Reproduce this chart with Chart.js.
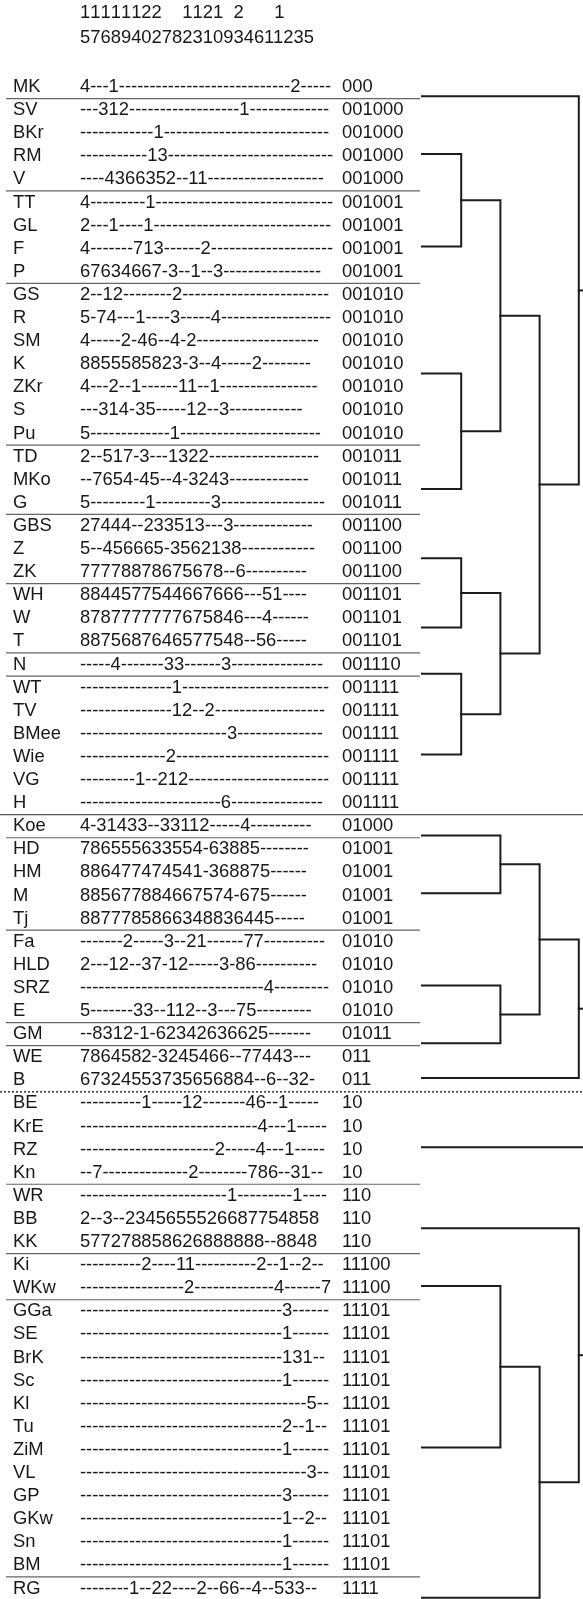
<!DOCTYPE html>
<html>
<head>
<meta charset="utf-8">
<script src="https://cdn.jsdelivr.net/npm/chart.js@4.4.1/dist/chart.umd.min.js"></script>
<style>
  html, body { margin: 0; padding: 0; background: #fff; }
  #wrap { position: relative; width: 583px; height: 1599px; }
</style>
</head>
<body>
<div id="wrap"><canvas id="dendro"></canvas></div>
<script>
// two-line column header (site numbers, read top/bottom)
var headerTop    = '11111122  1121 2   1';
var headerBottom = '57689402782310934611235';

// relevé names, one per row
var rowNames = ['MK','SV','BKr','RM','V','TT','GL','F','P','GS','R','SM','K','ZKr','S','Pu',
  'TD','MKo','G','GBS','Z','ZK','WH','W','T','N','WT','TV','BMee','Wie','VG','H',
  'Koe','HD','HM','M','Tj','Fa','HLD','SRZ','E','GM','WE','B',
  'BE','KrE','RZ','Kn','WR','BB','KK','Ki','WKw','GGa','SE','BrK','Sc','Kl','Tu','ZiM',
  'VL','GP','GKw','Sn','BM','RG'];

// cover strings; [n] stands for a run of n dashes
var rowPatterns = [
  '4[3]1[28]2[5]', '[3]312[18]1[13]', '[12]1[27]', '[11]13[27]', '[4]4366352[2]11[19]',
  '4[9]1[29]', '2[3]1[4]1[29]', '4[7]713[6]2[20]', '67634667[1]3[2]1[2]3[16]',
  '2[2]12[8]2[24]', '5[1]74[3]1[4]3[5]4[18]', '4[5]2[1]46[2]4[1]2[20]', '8855585823[1]3[2]4[5]2[8]',
  '4[3]2[2]1[6]11[2]1[16]', '[3]314[1]35[5]12[2]3[12]', '5[13]1[23]',
  '2[2]517[1]3[3]1322[18]', '[2]7654[1]45[2]4[1]3243[13]', '5[9]1[9]3[17]',
  '27444[2]233513[3]3[13]', '5[2]456665[1]3562138[12]', '77778878675678[2]6[10]',
  '8844577544667666[3]51[4]', '8787777777675846[3]4[6]', '8875687646577548[2]56[5]',
  '[5]4[7]33[6]3[15]',
  '[15]1[24]', '[15]12[2]2[18]', '[24]3[14]', '[14]2[25]', '[9]1[2]212[23]', '[23]6[15]',
  '4[1]31433[2]33112[5]4[10]',
  '786555633554[1]63885[8]', '886477474541[1]368875[6]', '885677884667574[1]675[6]', '8877785866348836445[5]',
  '[7]2[5]3[2]21[6]77[10]', '2[3]12[2]37[1]12[5]3[1]86[10]', '[30]4[9]', '5[7]33[2]112[2]3[3]75[9]',
  '[2]8312[1]1[1]62342636625[7]',
  '7864582[1]3245466[2]77443[3]', '67324553735656884[2]6[2]32[1]',
  '[10]1[5]12[7]46[2]1[5]', '[29]4[3]1[5]', '[22]2[5]4[3]1[5]', '[2]7[14]2[8]786[2]31[2]',
  '[24]1[9]1[4]', '2[2]3[2]2345655526687754858', '577278858626888888[2]8848',
  '[10]2[4]11[10]2[2]1[2]2[2]', '[17]2[13]4[6]7',
  '[33]3[6]', '[33]1[6]', '[33]131[2]', '[33]1[6]', '[37]5[2]', '[33]2[2]1[2]', '[33]1[6]',
  '[37]3[2]', '[33]3[6]', '[33]1[2]2[2]', '[33]1[6]', '[33]1[6]',
  '[8]1[2]22[4]2[2]66[2]4[2]533[2]'
];

// binary group codes
var rowCodes = ['000',
  '001000','001000','001000','001000','001001','001001','001001','001001',
  '001010','001010','001010','001010','001010','001010','001010',
  '001011','001011','001011','001100','001100','001100','001101','001101','001101',
  '001110','001111','001111','001111','001111','001111','001111',
  '01000','01001','01001','01001','01001','01010','01010','01010','01010','01011',
  '011','011','10','10','10','10','110','110','110','11100','11100',
  '11101','11101','11101','11101','11101','11101','11101','11101','11101','11101','11101','11101',
  '1111'];

// dendrogram joins: [node, child a, child b, join level]
var merges = [
  ['A', '001000', '001001', 1],
  ['B', '001010', '001011', 1],
  ['C', 'A', 'B', 2],
  ['D', '001100', '001101', 1],
  ['E', '001110', '001111', 1],
  ['F', 'D', 'E', 2],
  ['G', 'C', 'F', 3],
  ['H', '000', 'G', 4],
  ['I', '01000', '01001', 2],
  ['J', '01010', '01011', 2],
  ['K', 'I', 'J', 3],
  ['L', 'K', '011', 4],
  ['M', '11100', '11101', 2],
  ['N', 'M', '1111', 3],
  ['O', '110', 'N', 4]
];
// nodes that run off the right edge
var openNodes = ['H', 'L', '10', 'O'];
var fullRules = ['Koe'];
var dottedRules = ['BE'];

// ---- layout ----
var W = 583, H = 1599;
var ROW0 = 87, PITCH = 23.1;
var LEAF_PX = 422, STEP = 39.2;
var X_NAME = 13, X_PAT = 80, X_CODE = 342, RULE_FROM = 6, RULE_TO = 420;
var HEAD_ROWS = [-3.2, -2.12];
var LEAF_SHIFT = 0.4;
var FONT = '18.4px "Liberation Sans", Arial, sans-serif';

function expand(p) {
  return p.replace(/\[(\d+)\]/g, function (m, n) { return '-'.repeat(+n); });
}
function px2x(p) { return (p - LEAF_PX) / STEP; }

var xMin = px2x(0), xMax = px2x(W);
var yMin = -ROW0 / PITCH, yMax = (H - ROW0) / PITCH;

// leaves: one per run of equal codes, at the middle of the run
var nodes = {};
var i = 0;
while (i < rowCodes.length) {
  var j = i;
  while (j + 1 < rowCodes.length && rowCodes[j + 1] === rowCodes[i]) j++;
  nodes[rowCodes[i]] = { y: (i + j) / 2 + LEAF_SHIFT, level: 0 };
  i = j + 1;
}

var datasets = [];
function addLine(pts, opts) {
  datasets.push(Object.assign({
    data: pts, showLine: true, pointRadius: 0, fill: false,
    borderColor: '#1c1c1c', borderWidth: 2, borderCapStyle: 'square', borderJoinStyle: 'miter'
  }, opts || {}));
}

merges.forEach(function (m) {
  var a = nodes[m[1]], b = nodes[m[2]], lv = m[3];
  addLine([{ x: a.level, y: a.y }, { x: lv, y: a.y }, { x: lv, y: b.y }, { x: b.level, y: b.y }]);
  nodes[m[0]] = { y: (a.y + b.y) / 2, level: lv };
});
openNodes.forEach(function (id) {
  var n = nodes[id];
  addLine([{ x: n.level, y: n.y }, { x: xMax, y: n.y }]);
});

// group rules in the table
for (var r = 1; r < rowCodes.length; r++) {
  if (rowCodes[r] === rowCodes[r - 1]) continue;
  var yy = r - 0.5;
  var name = rowNames[r];
  if (dottedRules.indexOf(name) >= 0) {
    addLine([{ x: xMin, y: yy }, { x: xMax, y: yy }],
      { borderColor: '#333', borderWidth: 1.5, borderDash: [2, 2], borderCapStyle: 'butt' });
  } else if (fullRules.indexOf(name) >= 0) {
    addLine([{ x: xMin, y: yy }, { x: xMax, y: yy }],
      { borderColor: '#555', borderWidth: 1.2, borderCapStyle: 'butt' });
  } else {
    addLine([{ x: px2x(RULE_FROM), y: yy }, { x: px2x(RULE_TO), y: yy }],
      { borderColor: '#666', borderWidth: 1.2, borderCapStyle: 'butt' });
  }
}

var tablePlugin = {
  id: 'tableText',
  afterDatasetsDraw: function (chart) {
    var ctx = chart.ctx, ys = chart.scales.y;
    ctx.save();
    ctx.font = FONT;
    ctx.fillStyle = '#181818';
    ctx.textBaseline = 'middle';
    ctx.textAlign = 'left';
    // header: top digits sit over their columns of the bottom line
    var hy1 = ys.getPixelForValue(HEAD_ROWS[0]), hy2 = ys.getPixelForValue(HEAD_ROWS[1]);
    for (var k = 0; k < headerTop.length; k++) {
      if (headerTop[k] === ' ') continue;
      ctx.fillText(headerTop[k], X_PAT + ctx.measureText(headerBottom.slice(0, k)).width, hy1);
    }
    ctx.fillText(headerBottom, X_PAT, hy2);
    for (var r = 0; r < rowNames.length; r++) {
      var y = ys.getPixelForValue(r);
      ctx.fillText(rowNames[r], X_NAME, y);
      ctx.fillText(expand(rowPatterns[r]), X_PAT, y);
      ctx.fillText(rowCodes[r], X_CODE, y);
    }
    ctx.restore();
  }
};

new Chart(document.getElementById('dendro'), {
  type: 'scatter',
  data: { datasets: datasets },
  options: {
    responsive: true,
    maintainAspectRatio: false,
    animation: false,
    layout: { padding: 0 },
    plugins: { legend: { display: false }, tooltip: { enabled: false } },
    elements: { line: { tension: 0 } },
    scales: {
      x: { type: 'linear', display: false, min: xMin, max: xMax },
      y: { type: 'linear', display: false, reverse: true, min: yMin, max: yMax }
    }
  },
  plugins: [tablePlugin]
});
</script>
</body>
</html>
